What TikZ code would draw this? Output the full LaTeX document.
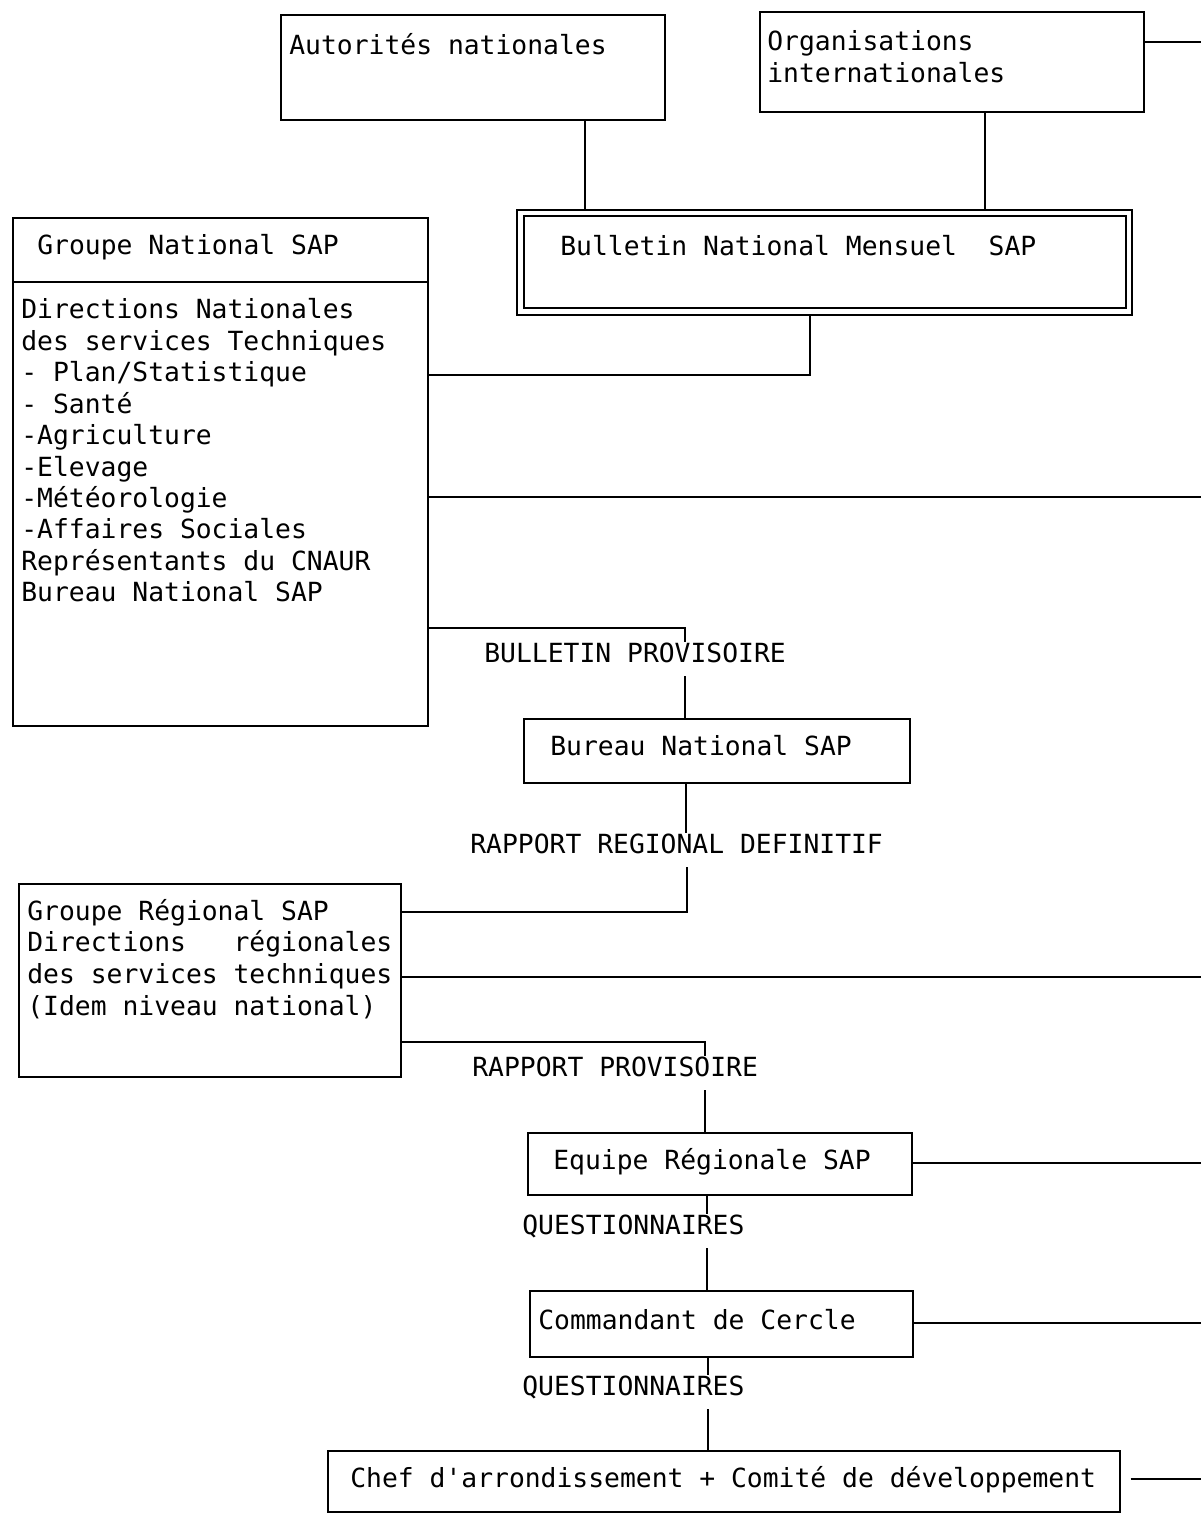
\documentclass[tikz,border=0pt]{standalone}
\usepackage{fontspec}
\setmonofont{DejaVu Sans Mono}
\usetikzlibrary{fit}

\tikzset{
    boite/.style={draw, line width=1pt, inner sep=0pt},
    texte/.style={anchor=base west, inner sep=0pt, font=\ttfamily\fontsize{15}{18}\selectfont},
    flux/.style={texte, text depth=8pt},
    lien/.style={line width=1pt}
}

\begin{document}
\begin{tikzpicture}[x=0.02cm, y=-0.02cm]
        \useasboundingbox (0,0) rectangle (1201,1513);
        \coordinate (bord) at (1201,0);

        % niveau national
        \node[boite, fit={(281,15) (665,120)}] (autorites) {};
        \node[texte] (autoritestxt) at (289,55) {Autorités nationales};
        \node[boite, fit={(760,12) (1144,112)}] (orgs) {};
        \node[texte] (orgstxta) at (767,51) {Organisations};
        \node[texte] (orgstxtb) at (767,83) {internationales};
        \node[boite, fit={(517,210) (1132,315)}] (bulletin) {};
        \node[boite, fit={(524,216) (1126,308)}] (bulletinint) {};
        \node[texte] (bulletintxt) at (560,256) {Bulletin National Mensuel~~SAP};

        \node[boite, fit={(13,218) (428,726)}] (gnat) {};
        \draw[lien] (gnat.west |- 0,282) -- (gnat.east |- 0,282);
        \node[texte] (gnattxt) at (37,255) {Groupe National SAP};
        \foreach \ligne [count=\i from 0] in {Directions Nationales, des services Techniques, - Plan/Statistique, - Santé, -Agriculture, -Elevage, -Météorologie, -Affaires Sociales, Représentants du CNAUR, Bureau National SAP}
        {
            \node[texte] (gnat\i) at (21, {319 + 31.4 * \i}) {\ligne};
        }

        \node[flux] (bprov) at (484,662) {BULLETIN PROVISOIRE};
        \node[boite, fit={(524,719) (910,783)}] (bureau) {};
        \node[texte] (bureautxt) at (550,755) {Bureau National SAP};
        \node[flux] (rrd) at (470,853) {RAPPORT REGIONAL DEFINITIF};

        % niveau regional
        \node[boite, fit={(19,884) (401,1077)}] (greg) {};
        \foreach \ligne [count=\i from 0] in {Groupe Régional SAP, Directions~~~régionales, des services techniques, (Idem niveau national)}
        {
            \node[texte] (greg\i) at (27, {920 + 31.7 * \i}) {\ligne};
        }
        \node[flux] (rprov) at (472,1076) {RAPPORT PROVISOIRE};
        \node[boite, fit={(528,1133) (912,1195)}] (equipe) {};
        \node[texte] (equipetxt) at (553,1169) {Equipe Régionale SAP};
        \node[flux] (quest1) at (522,1234) {QUESTIONNAIRES};
        \node[boite, fit={(530,1291) (913,1357)}] (cercle) {};
        \node[texte] (cercletxt) at (538,1329) {Commandant de Cercle};
        \node[flux] (quest2) at (522,1395) {QUESTIONNAIRES};
        \node[boite, fit={(328,1451) (1120,1512)}] (chef) {};
        \node[texte] (cheftxt) at (350,1487) {Chef d'arrondissement + Comité de développement};

        % liaisons
        \draw[lien] (autorites.south -| 585,0) -- (bulletin.north -| 585,0);
        \draw[lien] (orgs.south -| 985,0) -- (bulletin.north -| 985,0);
        \draw[lien] (orgs.east |- 0,42) -- (bord |- 0,42);
        \draw[lien] (bulletin.south -| 810,0) |- (gnat.east |- 0,375);
        \draw[lien] (gnat.east |- 0,497) -- (bord |- 0,497);
        \draw[lien] (gnat.east |- 0,628) -| (bprov.north -| 685,0);
        \draw[lien] (bprov.south -| 685,0) -- (bureau.north -| 685,0);
        \draw[lien] (bureau.south -| 686,0) -- (rrd.north -| 686,0);
        \draw[lien] (rrd.south -| 687,0) |- (greg.east |- 0,912);
        \draw[lien] (greg.east |- 0,977) -- (bord |- 0,977);
        \draw[lien] (greg.east |- 0,1042) -| (rprov.north -| 705,0);
        \draw[lien] (rprov.south -| 705,0) -- (equipe.north -| 705,0);
        \draw[lien] (equipe.east |- 0,1163) -- (bord |- 0,1163);
        \draw[lien] (equipe.south -| 707,0) -- (quest1.north -| 707,0);
        \draw[lien] (quest1.south -| 707,0) -- (cercle.north -| 707,0);
        \draw[lien] (cercle.east |- 0,1323) -- (bord |- 0,1323);
        \draw[lien] (cercle.south -| 708,0) -- (quest2.north -| 708,0);
        \draw[lien] (quest2.south -| 708,0) -- (chef.north -| 708,0);
        \draw[lien, shorten <=5.5pt] (chef.east |- 0,1479) -- (bord |- 0,1479);
\end{tikzpicture}
\end{document}
